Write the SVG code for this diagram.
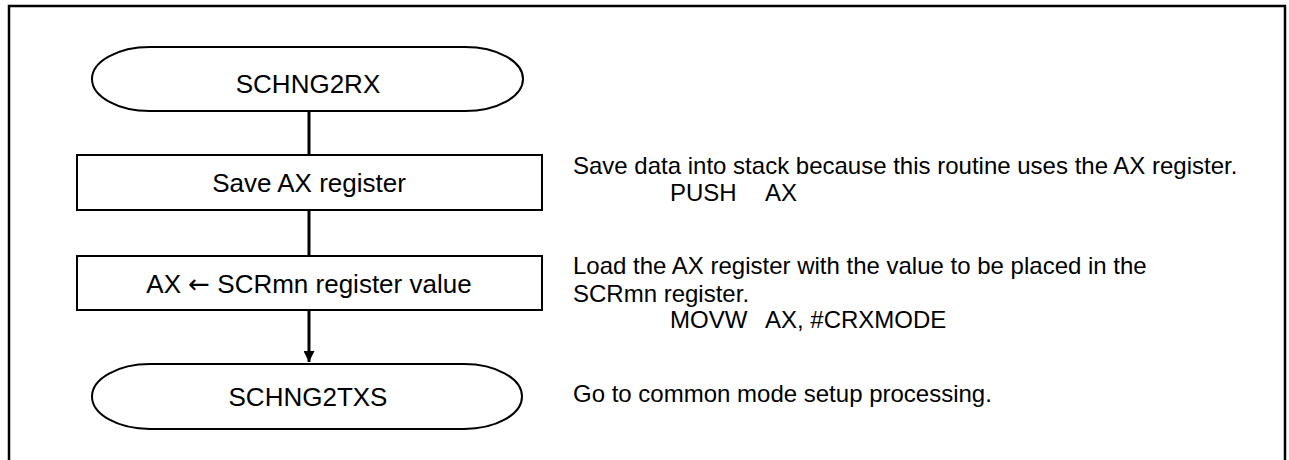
<svg xmlns="http://www.w3.org/2000/svg" width="1289" height="460" viewBox="0 0 1289 460">
<defs>
<style>
.shape{fill:#fff;stroke:#000;stroke-width:2}
.conn{stroke:#000;stroke-width:3;fill:none}
.nt{font-family:"Liberation Sans",Arial,sans-serif;font-size:26px;fill:#000;text-anchor:middle}
.at{font-family:"Liberation Sans",Arial,sans-serif;font-size:24px;fill:#000}
.sym{font-family:"DejaVu Sans",sans-serif;font-weight:normal}
</style>
<marker id="ah" markerWidth="11" markerHeight="11" viewBox="0 0 11 11" refX="11" refY="5.5" orient="auto" markerUnits="userSpaceOnUse">
<path d="M0,0 L11,5.5 L0,11 Z" fill="#000"/>
</marker>
</defs>
<rect x="0" y="0" width="1289" height="460" fill="#fff"/>
<path d="M9,460 V6 H1285 V460" fill="none" stroke="#000" stroke-width="2.5"/>
<g id="connectors">
<line class="conn" x1="309" y1="111" x2="309" y2="155"/>
<line class="conn" x1="309" y1="210" x2="309" y2="256"/>
<line class="conn" x1="309" y1="310" x2="309" y2="362" marker-end="url(#ah)"/>
</g>
<g id="start">
<path class="shape" d="M150,47 H465 A58,32 0 0 1 465,111 H150 A58,32 0 0 1 150,47 Z"/>
<text class="nt" x="308" y="93">SCHNG2RX</text>
</g>
<g id="save">
<rect class="shape" x="77" y="155" width="465" height="55"/>
<text class="nt" x="309" y="192">Save AX register</text>
</g>
<g id="load">
<rect class="shape" x="77" y="256" width="465" height="54"/>
<text class="nt" x="309" y="293">AX <tspan class="sym">←</tspan> SCRmn register value</text>
</g>
<g id="end">
<path class="shape" d="M150,364 H464 A58,32.5 0 0 1 464,429 H150 A58,32.5 0 0 1 150,364 Z"/>
<text class="nt" x="308" y="406">SCHNG2TXS</text>
</g>
<g id="notes">
<text class="at" x="573" y="174">Save data into stack because this routine uses the AX register.</text>
<text class="at" y="201"><tspan x="670">PUSH</tspan><tspan x="765">AX</tspan></text>
<text class="at" x="573" y="274">Load the AX register with the value to be placed in the</text>
<text class="at" x="573" y="302">SCRmn register.</text>
<text class="at" y="328"><tspan x="670">MOVW</tspan><tspan x="765">AX, #CRXMODE</tspan></text>
<text class="at" x="573" y="402">Go to common mode setup processing.</text>
</g>
</svg>
